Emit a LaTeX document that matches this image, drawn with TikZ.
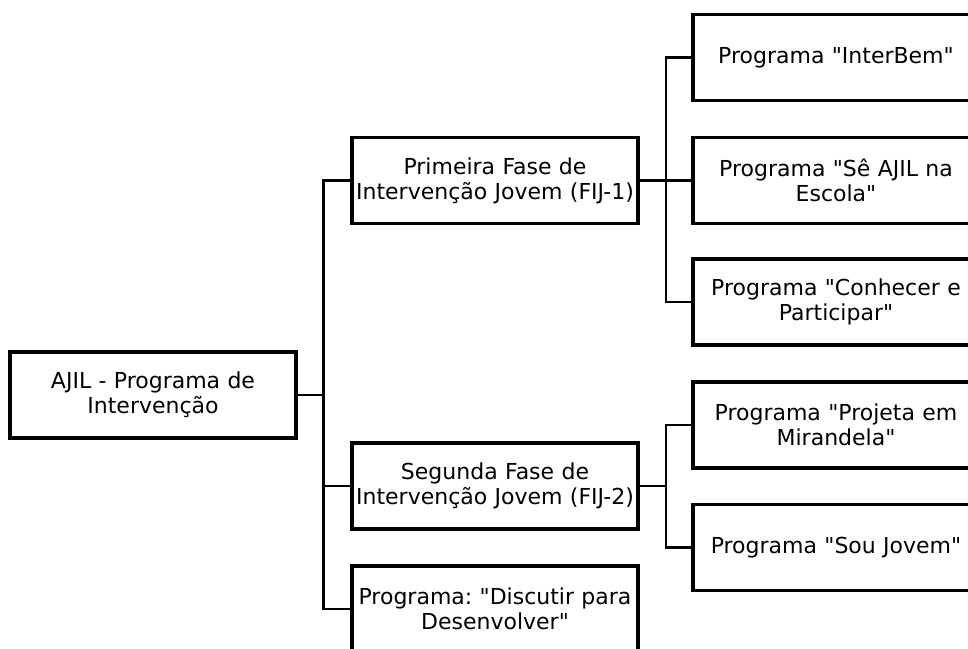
\documentclass[tikz,border=0pt]{standalone}
\usepackage{fontspec}
\setmainfont{DejaVu Sans}[Ligatures=TeXOff]
\begin{document}
\begin{tikzpicture}[x=1pt,y=-1pt,
  box/.style={draw=black,line width=3.5pt,fill=white,minimum width=286pt,minimum height=86pt,
    text width=286pt,inner sep=0pt,align=center,font=\fontsize{22}{25}\selectfont\frenchspacing},
  conn/.style={draw=black,line width=2.4pt}]
\useasboundingbox (0,0) rectangle (968,648);
\clip (0,0) rectangle (968,648);
\fill[white] (0,0) rectangle (968,648);
\node[box] (root) at (153,395) {AJIL - Programa de\\Intervenção};
\node[box] (fij1) at (495,180.5) {Primeira Fase de\\Intervenção Jovem (FIJ-1)};
\node[box] (fij2) at (495,486) {Segunda Fase de\\Intervenção Jovem (FIJ-2)};
\node[box] (disc) at (495,609) {Programa: "Discutir para\\Desenvolver"};
\node[box] (inter) at (836,57.5) {Programa "InterBem"};
\node[box] (se) at (836,180.5) {Programa "Sê AJIL na\\Escola"};
\node[box] (con) at (836,302) {Programa "Conhecer e\\Participar"};
\node[box] (proj) at (836,425) {Programa "Projeta em\\Mirandela"};
\node[box] (sou) at (836,547.5) {Programa "Sou Jovem"};
\coordinate (j1) at (323.5,395);
\coordinate (j2) at (666,180.5);
\coordinate (j3) at (666,486);
\draw[conn] (root.east) -- (j1);
\draw[conn] (j1) |- (fij1.west);
\draw[conn] (j1) |- (fij2.west);
\draw[conn] (j1) |- (disc.west);
\draw[conn] (fij1.east) -- (j2);
\draw[conn] (j2) |- (inter.west);
\draw[conn] (j2) |- (se.west);
\draw[conn] (j2) |- (con.west);
\draw[conn] (fij2.east) -- (j3);
\draw[conn] (j3) |- (proj.west);
\draw[conn] (j3) |- (sou.west);
\end{tikzpicture}
\end{document}
